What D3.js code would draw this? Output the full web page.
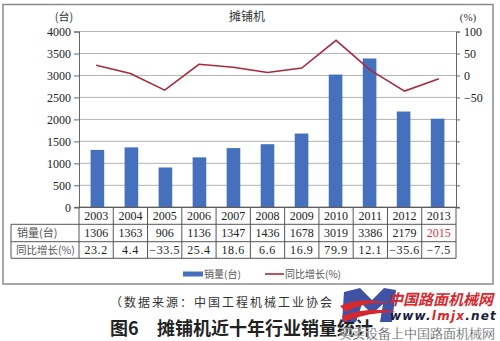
<!DOCTYPE html>
<html><head><meta charset="utf-8">
<script src="https://cdn.jsdelivr.net/npm/d3@7"></script>
<style>
html,body{margin:0;padding:0;background:#fff;}
svg{display:block;}
</style></head>
<body>
<script>
const years = ["2003","2004","2005","2006","2007","2008","2009","2010","2011","2012","2013"];
const sales = [1306,1363,906,1136,1347,1436,1678,3019,3386,2179,2015];
const growth = [23.2,4.4,-33.5,25.4,18.6,6.6,16.9,79.9,12.1,-35.6,-7.5];
const leftTicks = [0,500,1000,1500,2000,2500,3000,3500,4000];
const rightTicks = [100,50,0,-50];
const rightGridTicks = [100,50,0,-50,-100,-150,-200,-250,-300];
const growthLabels = ["23.2","4.4","−33.5","25.4","18.6","6.6","16.9","79.9","12.1","−35.6","−7.5"];

const W=500,H=341;
const svg=d3.select("body").append("svg").attr("width",W).attr("height",H);
const serif="'Liberation Serif','Times New Roman',serif";
const cjk="'Noto Sans CJK SC','Noto Sans',sans-serif";

const L=79,R=456,T=31.5,B=207.3;
const x=d3.scaleBand().domain(years).range([L,R]).paddingInner(0.6).paddingOuter(0.34);
const xc=d3.scaleBand().domain(years).range([L,R]).padding(0);
const y=d3.scaleLinear().domain([0,4000]).range([B,T]);
const y2=d3.scaleLinear().domain([-300,100]).range([B,T]);

// outer frame
svg.append("rect").attr("x",3).attr("y",4.5).attr("width",490).attr("height",279.5)
  .attr("fill","none").attr("stroke","#8a8a8a").attr("stroke-width",1.5);

// title
svg.append("text").attr("x",247).attr("y",21).attr("text-anchor","middle")
  .attr("font-family",cjk).attr("font-size",12).attr("fill","#333").text("摊铺机");
svg.append("text").attr("x",64).attr("y",21).attr("text-anchor","middle")
  .attr("font-family",cjk).attr("font-size",11).attr("fill","#333").text("(台)");
svg.append("text").attr("x",468).attr("y",21).attr("text-anchor","middle")
  .attr("font-family",serif).attr("font-size",11).attr("fill","#333").text("(%)");

// grid
svg.append("g").selectAll("line").data(leftTicks.slice(1)).join("line")
  .attr("x1",L).attr("x2",R).attr("y1",d=>y(d)).attr("y2",d=>y(d))
  .attr("stroke","#b5b5b5").attr("stroke-width",1);

// left axis
const gl=svg.append("g").attr("transform",`translate(${L},0)`)
  .call(d3.axisLeft(y).tickValues(leftTicks).tickSize(5).tickPadding(3).tickFormat(d3.format("d")));
gl.select(".domain").attr("stroke","#666");
gl.selectAll(".tick line").attr("stroke","#666");
gl.selectAll("text").attr("font-family",serif).attr("font-size",12).attr("fill","#222");

// right axis
const gr=svg.append("g").attr("transform",`translate(${R},0)`)
  .call(d3.axisRight(y2).tickValues(rightGridTicks).tickSize(4).tickPadding(4)
    .tickFormat(d=>rightTicks.includes(d)?(d<0?"−"+Math.abs(d):d):""));
gr.select(".domain").attr("stroke","#666");
gr.selectAll(".tick line").attr("stroke","#666");
gr.selectAll("text").attr("font-family",serif).attr("font-size",12).attr("fill","#222");

// bars
svg.append("g").selectAll("rect").data(years).join("rect")
  .attr("x",d=>x(d)).attr("width",x.bandwidth())
  .attr("y",(d,i)=>y(sales[i])).attr("height",(d,i)=>B-y(sales[i]))
  .attr("fill","#4470be");

// x axis line
svg.append("line").attr("x1",L-4).attr("x2",R+3).attr("y1",B).attr("y2",B)
  .attr("stroke","#666").attr("stroke-width",1);

// line
svg.append("path").datum(growth)
  .attr("d",d3.line().x((d,i)=>xc(years[i])+xc.bandwidth()/2).y(d=>y2(d)))
  .attr("fill","none").attr("stroke","#a8283f").attr("stroke-width",1.6);

// table
const r0=B,r1=224.3,r2=241.7,r3=258.3,tl=11;
const tg=svg.append("g").attr("stroke","#555").attr("stroke-width",1);
tg.append("line").attr("x1",L).attr("x2",R).attr("y1",r0).attr("y2",r0);
tg.append("line").attr("x1",tl).attr("x2",R).attr("y1",r1).attr("y2",r1);
tg.append("line").attr("x1",tl).attr("x2",R).attr("y1",r2).attr("y2",r2);
tg.append("line").attr("x1",tl).attr("x2",R).attr("y1",r3).attr("y2",r3);
tg.append("line").attr("x1",tl).attr("x2",tl).attr("y1",r1).attr("y2",r3);
tg.selectAll(".v").data(years).join("line").attr("class","v")
  .attr("x1",d=>xc(d)).attr("x2",d=>xc(d)).attr("y1",r0).attr("y2",r3);
tg.append("line").attr("x1",R).attr("x2",R).attr("y1",r0).attr("y2",r3);

const cx=d=>xc(d)+xc.bandwidth()/2;
svg.append("g").selectAll("text").data(years).join("text")
  .attr("x",d=>cx(d)).attr("y",(r0+r1)/2+4.3).attr("text-anchor","middle")
  .attr("font-family",serif).attr("font-size",12).attr("fill","#222").text(d=>d);
svg.append("g").selectAll("text").data(years).join("text")
  .attr("x",d=>cx(d)).attr("y",(r1+r2)/2+4.3).attr("text-anchor","middle")
  .attr("font-family",serif).attr("font-size",12)
  .attr("fill",(d,i)=>i===years.length-1?"#e0304a":"#222").text((d,i)=>sales[i]);
svg.append("g").selectAll("text").data(years).join("text")
  .attr("x",d=>cx(d)).attr("y",(r2+r3)/2+4.3).attr("text-anchor","middle")
  .attr("font-family",serif).attr("font-size",12).attr("fill","#222")
  .attr("letter-spacing",0.6).text((d,i)=>growthLabels[i]);
svg.append("text").attr("x",17).attr("y",(r1+r2)/2+4).attr("font-family",cjk)
  .attr("font-size",11).attr("fill","#555").text("销量(台)");
svg.append("text").attr("x",16).attr("y",(r2+r3)/2+4).attr("font-family",cjk)
  .attr("font-size",10.5).attr("fill","#555").text("同比增长(%)");

// legend
svg.append("rect").attr("x",183).attr("y",271.5).attr("width",20).attr("height",5).attr("fill","#4470be");
svg.append("text").attr("x",204).attr("y",278).attr("font-family",cjk).attr("font-size",10).attr("fill","#555").text("销量(台)");
svg.append("line").attr("x1",265).attr("x2",284).attr("y1",274).attr("y2",274).attr("stroke","#a8283f").attr("stroke-width",1.6);
svg.append("text").attr("x",285).attr("y",278).attr("font-family",cjk).attr("font-size",10).attr("fill","#555").text("同比增长(%)");

// source & caption
svg.append("text").attr("x",110).attr("y",307).attr("font-family",cjk).attr("font-size",12)
  .attr("letter-spacing",2).attr("fill","#333").text("（数据来源：中国工程机械工业协会");
svg.append("text").attr("x",110).attr("y",335).attr("font-family",cjk).attr("font-size",18)
  .attr("font-weight","bold").attr("fill","#222").text("图6");
svg.append("text").attr("x",157).attr("y",335).attr("font-family",cjk).attr("font-size",18)
  .attr("font-weight","bold").attr("fill","#222").text("摊铺机近十年行业销量统计");

// watermark
const wm=svg.append("g");
wm.append("path").attr("d","M344,292 L360,288 L372,300 L384,288 L396,290 L392,322 L380,322 L383,304 L372,314 L362,304 L356,322 L342,322 Z")
  .attr("fill","#2b3f9a").attr("opacity",0.9);
wm.append("path").attr("d","M340,306 Q360,296 394,304 Q366,300 346,312 Z").attr("fill","#d8282e");
wm.append("path").attr("d","M342,316 Q368,306 396,312 Q368,312 344,322 Z").attr("fill","#d8282e");
wm.append("text").attr("x",388).attr("y",305).attr("font-family",cjk).attr("font-size",15)
  .attr("font-weight","bold").attr("font-style","italic").attr("fill","#d8282e").text("中国路面机械网");
const t2=wm.append("text").attr("x",390).attr("y",320).attr("font-family","'DejaVu Sans',sans-serif")
  .attr("font-size",12).attr("font-weight","bold").attr("font-style","italic").attr("letter-spacing",1.2).attr("fill","#1a1a3a");
t2.append("tspan").text("www.");
t2.append("tspan").attr("fill","#d8282e").text("lmjx");
t2.append("tspan").text(".net");
wm.append("text").attr("x",339).attr("y",338).attr("font-family",cjk).attr("font-size",13)
  .attr("fill","#333").attr("stroke","#fff").attr("stroke-width",0.3).text("买卖设备上中国路面机械网");
</script>
</body></html>
